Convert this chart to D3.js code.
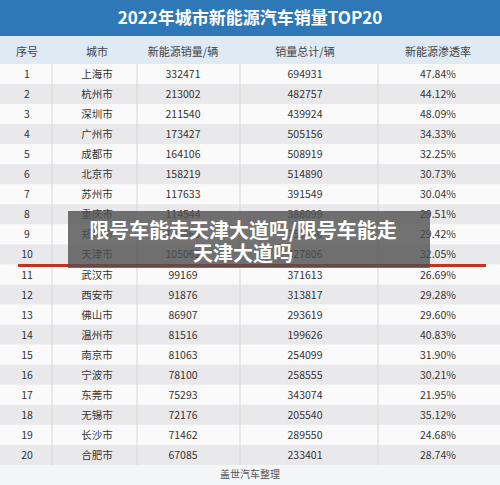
<!DOCTYPE html>
<html><head><meta charset="utf-8">
<script src="https://cdn.jsdelivr.net/npm/d3@7"></script>
<style>body{margin:0;background:#fff}text{font-family:"Noto Sans CJK SC","Noto Sans",sans-serif}</style>
</head><body><div id="chart"></div>
<script>
var title = "2022年城市新能源汽车销量TOP20";
var headers = ["序号", "城市", "新能源销量/辆", "销量总计/辆", "新能源渗透率"];
var cities = ["上海市","杭州市","深圳市","广州市","成都市","北京市","苏州市","重庆市","郑州市","天津市","武汉市","西安市","佛山市","温州市","南京市","宁波市","东莞市","无锡市","长沙市","合肥市"];
var nevSales = [332471,213002,211540,173427,164106,158219,117633,114544,105869,105062,99169,91876,86907,81516,81063,78100,75293,72176,71462,67085];
var totalSales = [694931,482757,439924,505156,508919,514890,391549,388099,359860,327806,371613,313817,293619,199626,254099,258555,343074,205540,289550,233401];
var rates = ["47.84%","44.12%","48.09%","34.33%","32.25%","30.73%","30.04%","29.51%","29.42%","32.05%","26.69%","29.28%","29.60%","40.83%","31.90%","30.21%","21.95%","35.12%","24.68%","28.74%"];
var footer = "盖世汽车整理";
var overlay = ["限号车能走天津大道吗/限号车能走", "天津大道吗"];

var W = 500, H = 485;
var svg = d3.select("#chart").append("svg").attr("width", W).attr("height", H);

var xs = {"序号": 27, "城市": 97, "新能源销量/辆": 183, "销量总计/辆": 305, "新能源渗透率": 438};
var y = d3.scaleBand().domain(d3.range(cities.length)).range([64, 465]);

svg.append("rect").attr("width", W).attr("height", H).attr("fill", "#f4f5f7");
svg.append("rect").attr("width", W).attr("height", 36).attr("fill", "#2f78b8");
svg.append("text").attr("x", W / 2).attr("y", 24).attr("text-anchor", "middle")
    .attr("fill", "#fff").attr("font-size", 17).attr("font-weight", "bold").text(title);
svg.append("rect").attr("y", 36).attr("width", W).attr("height", 28).attr("fill", "#dfeaf4");

svg.selectAll(".hd").data(headers).enter().append("text")
    .attr("x", function(d) { return xs[d]; }).attr("y", 56)
    .attr("text-anchor", "middle").attr("font-size", 11).attr("fill", "#444").text(function(d) { return d; });

var rows = svg.selectAll(".row").data(cities).enter().append("g")
    .attr("transform", function(d, i) { return "translate(0," + y(i) + ")"; });
rows.append("rect").attr("width", W).attr("height", y.bandwidth())
    .attr("fill", function(d, i) { return i % 2 ? "#e9e9eb" : "#fafafa"; });

var cols = [
    function(d, i) { return i + 1; },
    function(d) { return d; },
    function(d, i) { return nevSales[i]; },
    function(d, i) { return totalSales[i]; },
    function(d, i) { return rates[i]; }
];
cols.forEach(function(f, c) {
    rows.append("text").attr("x", xs[headers[c]]).attr("y", y.bandwidth() / 2 + 4)
        .attr("text-anchor", "middle").attr("font-size", 10.5).attr("fill", "#333").text(f);
});

[52, 137, 240, 378].forEach(function(v) {
    svg.append("line").attr("x1", v).attr("x2", v).attr("y1", 64).attr("y2", 465)
        .attr("stroke", "#d6d6d6");
});

svg.append("text").attr("x", W / 2).attr("y", 478).attr("text-anchor", "middle")
    .attr("font-size", 10).attr("fill", "#555").text(footer);

// highlight line under Tianjin
svg.append("line").attr("x1", 18).attr("x2", 486).attr("y1", y(9) + y.bandwidth() + 1).attr("y2", y(9) + y.bandwidth() + 1)
    .attr("stroke", "#c8301e").attr("stroke-width", 3);

svg.append("rect").attr("x", 68).attr("y", 211).attr("width", 362).attr("height", 57)
    .attr("fill", "#505050").attr("opacity", 0.8);
overlay.forEach(function(t, i) {
    svg.append("text").attr("x", 243).attr("y", 238 + i * 23).attr("text-anchor", "middle")
        .attr("fill", "#fff").attr("font-size", 20).attr("font-weight", "bold").text(t);
});
</script></body></html>
